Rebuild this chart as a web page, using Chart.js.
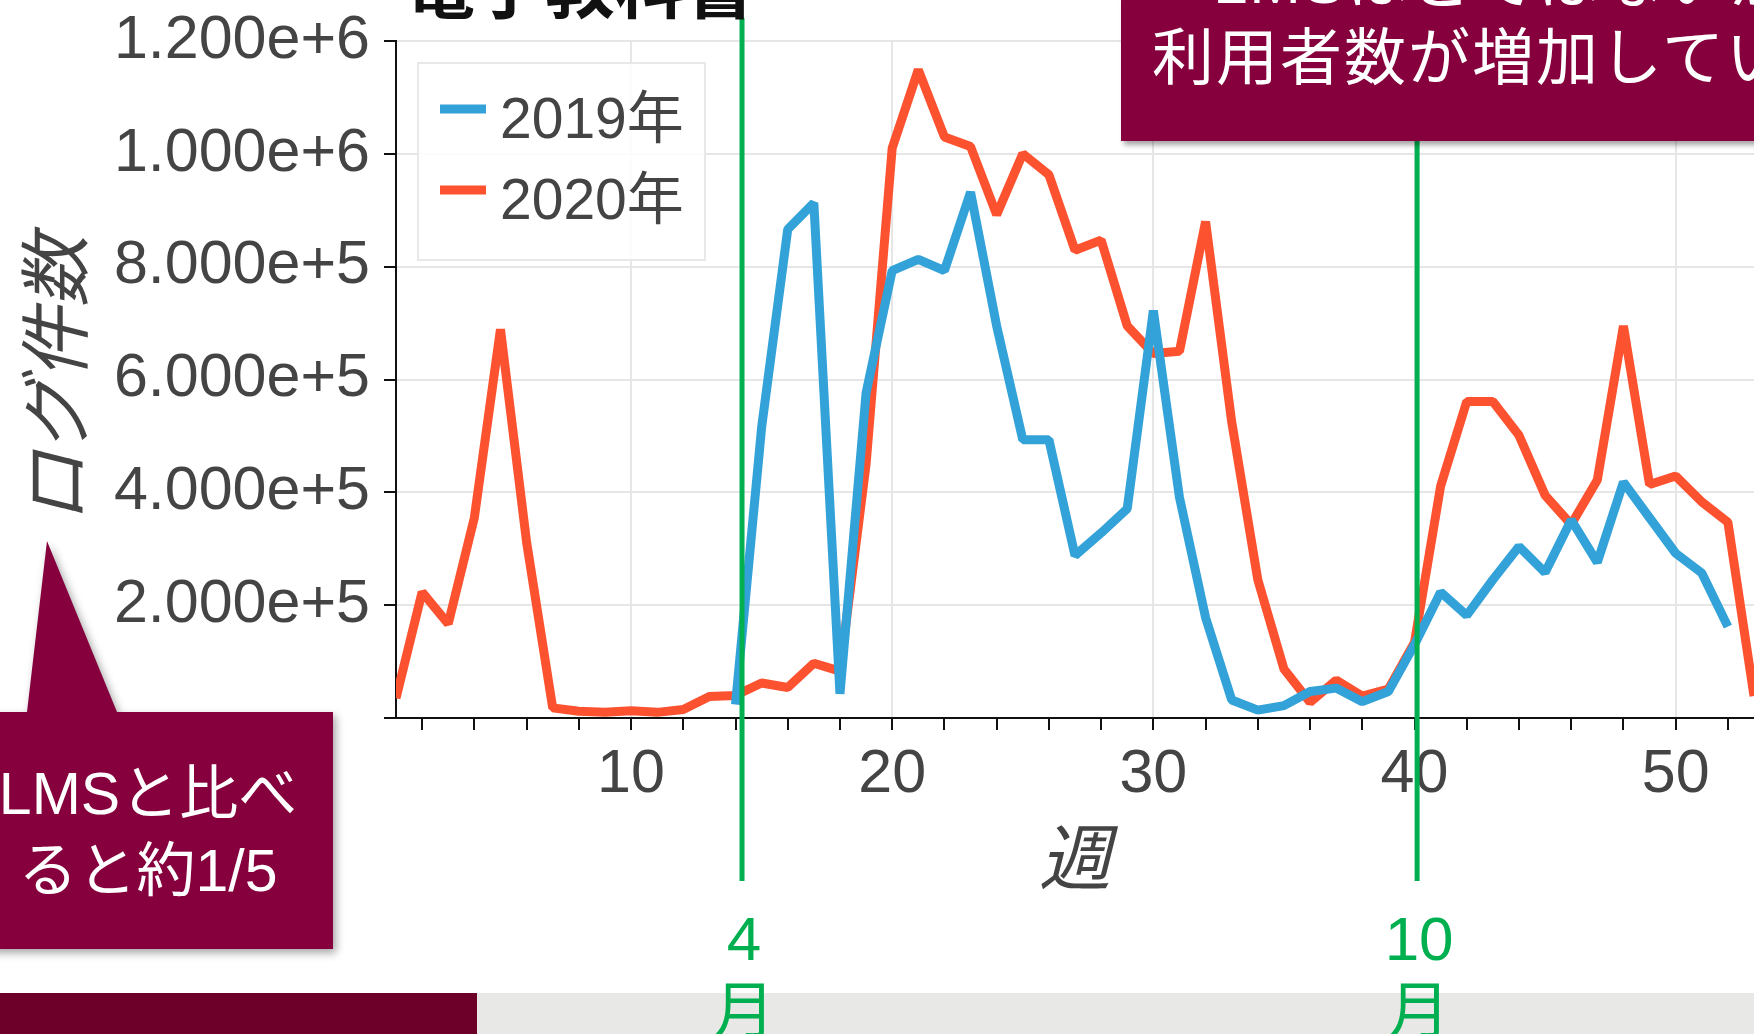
<!DOCTYPE html>
<html lang="ja">
<head>
<meta charset="UTF-8">
<title>電子教科書 ログ件数</title>
<script src="https://cdn.jsdelivr.net/npm/chart.js"></script>
<style>
  html, body { margin: 0; padding: 0; }
  body {
    width: 1754px; height: 1034px; overflow: hidden; position: relative; background: #fff;
    font-family: "Liberation Sans", "Noto Sans CJK JP", sans-serif;
  }
  #chart { position: absolute; left: 0; top: 0; z-index: 1; }
  .bar-left { position: absolute; left: 0; top: 993px; width: 477px; height: 41px; background: #6c0029; }
  .bar-right { position: absolute; left: 477px; top: 993px; width: 1277px; height: 41px; background: #e8e8e6; }
  .title {
    position: absolute; left: 405px; top: -52px; z-index: 2; white-space: nowrap;
    font: bold 70px/70px "Noto Sans CJK JP", sans-serif; color: #111;
  }
  .note-top {
    position: absolute; left: 1121px; top: 0; width: 764px; height: 141px; z-index: 3;
    background: #85003d; box-shadow: 3px 4px 5px rgba(0,0,0,.35);
  }
  .note-top div {
    position: absolute; left: 0; top: -57px; width: 100%; text-align: center; white-space: nowrap;
    color: #fff; font: 62px/77px "Liberation Sans", "Noto Sans CJK JP", sans-serif; letter-spacing: 2px;
  }
  .callout {
    position: absolute; left: 0; top: 530px; z-index: 3; overflow: visible;
    filter: drop-shadow(3px 4px 4px rgba(0,0,0,.35));
  }
  .callout-text {
    position: absolute; left: -40px; top: 756px; width: 376px; z-index: 4; text-align: center;
    white-space: nowrap; color: #fff; font: 59px/77px "Liberation Sans", "Noto Sans CJK JP", sans-serif;
  }
</style>
</head>
<body>
<div class="bar-left"></div>
<div class="bar-right"></div>
<canvas id="chart" width="1754" height="1034"></canvas>
<div class="title">電子教科書</div>
<div class="note-top"><div>LMSほどではないが<br>利用者数が増加している</div></div>
<svg class="callout" width="340" height="440">
  <polygon points="-10,182 27,182 47,11 117,182 333,182 333,419 -10,419" fill="#85003d"/>
</svg>
<div class="callout-text">LMSと比べ<br>ると約1/5</div>

<script>
// weeks of the year
var weeks = [1, 2, 3, 4, 5, 6, 7, 8, 9, 10, 11, 12, 13, 14, 15, 16, 17, 18, 19, 20,
             21, 22, 23, 24, 25, 26, 27, 28, 29, 30, 31, 32, 33, 34, 35, 36, 37, 38, 39, 40,
             41, 42, 43, 44, 45, 46, 47, 48, 49, 50, 51, 52, 53];

// log counts per week
var logs2019 = [null, null, null, null, null, null, null, null, null, null, null, null, null,
                24000, 515000, 866000, 913000, 43000, 576000, 793000, 813000, 793000, 932000, 695000,
                493000, 493000, 288000, 328000, 371000, 722000, 391000, 178000, 32000, 14000, 22000,
                47000, 53000, 29000, 47000, 130000, 223000, 182000, 245000, 304000, 258000, 351000,
                276000, 418000, 355000, 292000, 257000, 162000, null];
var logs2020 = [35000, 223000, 167000, 355000, 689000, 312000, 18000, 12000, 10000, 13000,
                10000, 15000, 38000, 40000, 62000, 54000, 97000, 83000, 450000, 1010000,
                1149000, 1030000, 1013000, 892000, 1000000, 963000, 829000, 847000, 695000, 646000,
                650000, 880000, 525000, 245000, 87000, 28000, 67000, 39000, 51000, 134000,
                411000, 561000, 561000, 501000, 395000, 343000, 422000, 695000, 414000, 429000,
                383000, 347000, 39000];

var seriesNames = ['2019年', '2020年'];
var xTicks = [2, 4, 6, 8, 10, 12, 14, 16, 18, 20, 22, 24, 26, 28, 30, 32, 34, 36, 38, 40,
              42, 44, 46, 48, 50, 52];

// month starts (April, October) in week units
var monthWeeks = [14.25, 40.1];
var monthLabels = [['4', '月'], ['10', '月']];

var blue = '#33a2d8';
var orange = '#fc5230';
var green = '#00b050';
var tickFont = { family: '"Liberation Sans", "Noto Sans CJK JP", sans-serif', size: 61 };
// small line height so the top label does not push the plot down
var yTickFont = { family: '"Liberation Sans", "Noto Sans CJK JP", sans-serif', size: 61, lineHeight: 0.5 };
var titleFont = { family: '"Noto Sans CJK JP", sans-serif', size: 72, style: 'italic', lineHeight: 1.2 };

// legend box inside the plot, top-left
var insideLegend = {
    id: 'insideLegend',
    afterDatasetsDraw: function (chart) {
        var ctx = chart.ctx, area = chart.chartArea;
        var bx = area.left + 22, by = area.top + 22;
        ctx.save();
        ctx.fillStyle = 'rgba(255,255,255,0.88)';
        ctx.strokeStyle = '#e8e8e8';
        ctx.lineWidth = 2;
        ctx.fillRect(bx, by, 287, 197);
        ctx.strokeRect(bx, by, 287, 197);
        ctx.font = '57px "Liberation Sans", "Noto Sans CJK JP", sans-serif';
        ctx.textBaseline = 'middle';
        chart.data.datasets.forEach(function (ds, i) {
            var y = by + 46 + i * 81;
            ctx.strokeStyle = ds.borderColor;
            ctx.lineWidth = 9;
            ctx.beginPath();
            ctx.moveTo(bx + 22, y);
            ctx.lineTo(bx + 68, y);
            ctx.stroke();
            ctx.fillStyle = '#444';
            ctx.fillText(ds.label, bx + 82, y + 13);
        });
        ctx.restore();
    }
};

// green month lines and labels
var monthLines = {
    id: 'monthLines',
    afterDraw: function (chart) {
        var ctx = chart.ctx, x = chart.scales.x;
        ctx.save();
        ctx.strokeStyle = green;
        ctx.fillStyle = green;
        ctx.lineWidth = 5;
        ctx.font = '62px "Liberation Sans", "Noto Sans CJK JP", sans-serif';
        ctx.textAlign = 'center';
        monthWeeks.forEach(function (w, i) {
            var px = x.getPixelForValue(w);
            ctx.beginPath();
            ctx.moveTo(px, 18);
            ctx.lineTo(px, 881);
            ctx.stroke();
            ctx.fillText(monthLabels[i][0], px + 2, 960);
            ctx.fillText(monthLabels[i][1], px + 2, 1033);
        });
        ctx.restore();
    }
};

var ctx = document.getElementById('chart').getContext('2d');
var chart = new Chart(ctx, {
    type: 'line',
    data: {
        labels: weeks,
        datasets: [{
            label: seriesNames[0],
            data: logs2019,
            borderColor: blue,
            borderWidth: 9,
            borderJoinStyle: 'bevel',
            pointRadius: 0,
            tension: 0
        }, {
            label: seriesNames[1],
            data: logs2020,
            borderColor: orange,
            borderWidth: 9,
            borderJoinStyle: 'bevel',
            pointRadius: 0,
            tension: 0
        }]
    },
    options: {
        responsive: false,
        animation: false,
        layout: { padding: { top: 41, left: 0, right: 0, bottom: 0 } },
        plugins: {
            legend: { display: false },
            tooltip: { enabled: false }
        },
        scales: {
            x: {
                type: 'linear',
                min: 1,
                max: 53,
                afterBuildTicks: function (axis) {
                    axis.ticks = xTicks.map(function (v) { return { value: v }; });
                },
                afterFit: function (s) { s.height = 316; },
                border: { color: '#111', width: 2 },
                grid: {
                    lineWidth: 2,
                    tickLength: 12,
                    tickWidth: 2,
                    tickColor: '#111',
                    color: function (c) {
                        return c.tick && c.tick.value % 10 === 0 ? '#e6e6e6' : 'rgba(0,0,0,0)';
                    }
                },
                ticks: {
                    autoSkip: false,
                    maxRotation: 0,
                    padding: 9,
                    color: '#444',
                    font: tickFont,
                    callback: function (v) { return v % 10 === 0 ? String(v) : ''; }
                },
                title: {
                    display: true,
                    text: '週',
                    color: '#444',
                    font: titleFont,
                    padding: { top: 0, bottom: 134 }
                }
            },
            y: {
                min: 0,
                max: 1200000,
                afterFit: function (s) { s.width = 396; },
                border: { color: '#111', width: 2 },
                grid: {
                    lineWidth: 2,
                    color: '#e6e6e6',
                    tickLength: 12,
                    tickWidth: 2,
                    tickColor: '#111'
                },
                ticks: {
                    stepSize: 200000,
                    padding: 14,
                    color: '#444',
                    font: yTickFont,
                    callback: function (v) { return v === 0 ? '' : v.toExponential(3); }
                },
                title: {
                    display: true,
                    text: 'ログ件数',
                    color: '#444',
                    font: titleFont,
                    padding: { top: 11, bottom: 0 }
                }
            }
        }
    },
    plugins: [insideLegend, monthLines]
});
</script>
</body>
</html>
